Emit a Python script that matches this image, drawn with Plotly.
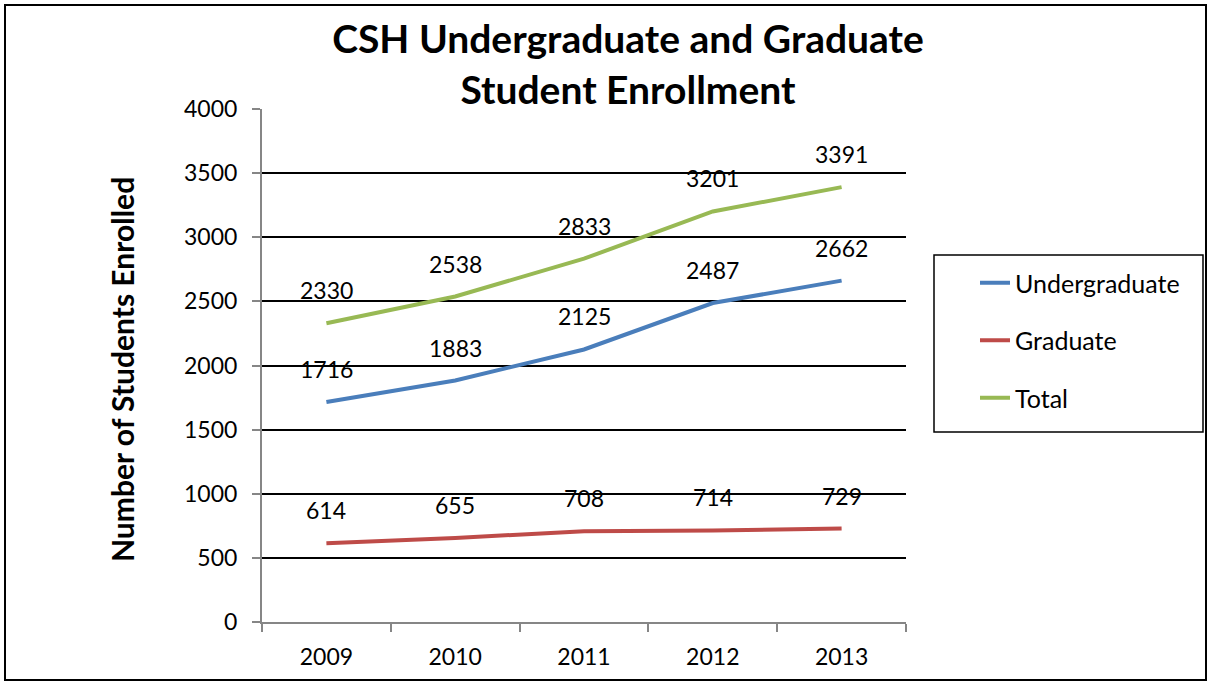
import plotly.graph_objects as go

# Enrollment counts by academic year
years = ["2009", "2010", "2011", "2012", "2013"]
undergraduate = [1716, 1883, 2125, 2487, 2662]
graduate = [614, 655, 708, 714, 729]
total = [2330, 2538, 2833, 3201, 3391]

y_ticks = [0, 500, 1000, 1500, 2000, 2500, 3000, 3500, 4000]

series = [
    ("Undergraduate", undergraduate, "#4A7EBB"),
    ("Graduate", graduate, "#BE4B48"),
    ("Total", total, "#98B954"),
]

FONT = "Lato"
W, H = 1209, 682
L, R, T, B = 262, 303, 109, 60
pw, ph = W - L - R, H - T - B


def px_x(p):
    return (p - L) / pw


def px_y(p):
    return (H - B - p) / ph


fig = go.Figure()

for name, vals, color in series:
    fig.add_trace(go.Scatter(
        x=years, y=vals, name=name, mode="lines",
        line=dict(color=color, width=4),
        legendgroup=name,
        hoverinfo="x+y+name",
    ))

# value labels above each point (category axis positions by index)
annotations = []
for name, vals, color in series:
    for i, v in enumerate(vals):
        annotations.append(dict(
            x=i, y=v, xref="x", yref="y", text=str(v), showarrow=False,
            yshift=33, xanchor="center", yanchor="middle",
            font=dict(family=FONT, size=23, color="#000000"),
        ))

# vertical axis title
annotations.append(dict(
    x=px_x(122), y=px_y(370), xref="paper", yref="paper",
    text="<b>Number of Students Enrolled</b>", textangle=-90,
    showarrow=False, xanchor="center", yanchor="middle",
    font=dict(family=FONT, size=30, color="#000000"),
))

shapes = [
    # outer chart frame
    dict(type="rect", xref="paper", yref="paper",
         x0=px_x(5), x1=px_x(1206), y0=px_y(680), y1=px_y(5),
         line=dict(color="#000000", width=2), fillcolor="rgba(0,0,0,0)", layer="below"),
    # legend frame
    dict(type="rect", xref="paper", yref="paper",
         x0=px_x(934), x1=px_x(1203), y0=px_y(432), y1=px_y(255),
         line=dict(color="#000000", width=1.5), fillcolor="rgba(0,0,0,0)"),
]

fig.update_layout(
    width=W, height=H,
    margin=dict(l=L, r=R, t=T, b=B, pad=0),
    paper_bgcolor="white", plot_bgcolor="white",
    font=dict(family=FONT, size=23, color="#000000"),
    title=dict(
        text="<b>CSH Undergraduate and Graduate<br>Student Enrollment</b>",
        x=px_x(628), xref="paper", xanchor="center",
        y=1 - 53 / H, yref="container", yanchor="middle",
        font=dict(family=FONT, size=39, color="#000000"),
    ),
    xaxis=dict(
        type="category", range=[-0.5, 4.5],
        showline=True, linecolor="#868686", linewidth=2,
        ticks="outside", ticklen=8, tickcolor="#868686", tickwidth=2,
        tickson="boundaries", showgrid=False, zeroline=False,
        ticklabelstandoff=13,
        tickfont=dict(family=FONT, size=23, color="#000000"),
    ),
    yaxis=dict(
        range=[0, 4000], tickvals=y_ticks,
        showline=True, linecolor="#868686", linewidth=2,
        ticks="outside", ticklen=8, tickcolor="#868686", tickwidth=2,
        showgrid=True, gridcolor="#000000", gridwidth=1.5, zeroline=False,
        ticklabelstandoff=10,
        tickfont=dict(family=FONT, size=23, color="#000000"),
    ),
    legend=dict(
        x=px_x(975), y=px_y(260), xanchor="left", yanchor="top",
        xref="paper", yref="paper",
        bgcolor="rgba(0,0,0,0)", borderwidth=0,
        font=dict(family=FONT, size=25, color="#000000"),
        traceorder="grouped", tracegroupgap=22,
    ),
    annotations=annotations,
    shapes=shapes,
    showlegend=True,
)

fig.write_html("out.html")
